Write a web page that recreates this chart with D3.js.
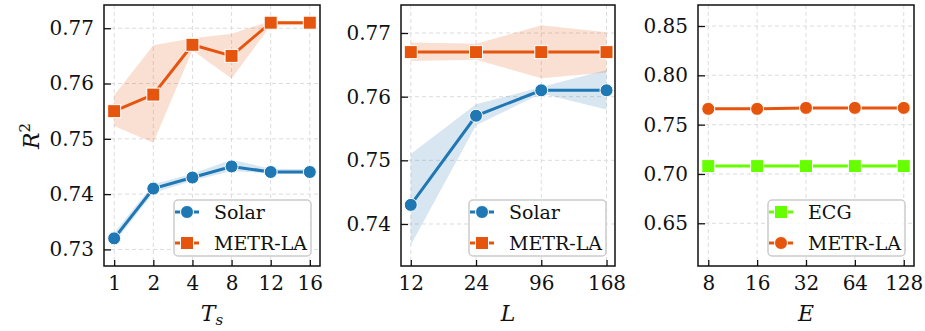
<!DOCTYPE html>
<html>
<head>
<meta charset="utf-8">
<script src="https://cdn.jsdelivr.net/npm/d3@7"></script>
<style>
body{margin:0;background:#fff}
svg{display:block}
text{font-family:"DejaVu Serif","DejaVu Sans",sans-serif;fill:#111}
</style>
</head>
<body>
<div id="chart-area"></div>
<script>
// data
const tsLabels = ['1','2','4','8','12','16']
const tsSolar = [0.732,0.741,0.743,0.745,0.744,0.744]
const tsSolarLo = [0.7312,0.7402,0.7424,0.7442,0.7437,0.7437]
const tsSolarHi = [0.7330,0.7418,0.7437,0.7462,0.7446,0.7445]
const tsMetr = [0.755,0.758,0.767,0.765,0.771,0.771]
const tsMetrLo = [0.7523,0.7493,0.7660,0.7609,0.7705,0.7706]
const tsMetrHi = [0.7579,0.7669,0.7682,0.7690,0.7713,0.7713]

const lLabels = ['12','24','96','168']
const lSolar = [0.743,0.757,0.761,0.761]
const lSolarLo = [0.7367,0.7555,0.7605,0.7580]
const lSolarHi = [0.7510,0.7588,0.7615,0.7642]
const lMetr = [0.767,0.767,0.767,0.767]
const lMetrLo = [0.7656,0.7658,0.7629,0.7638]
const lMetrHi = [0.7685,0.7683,0.7712,0.7701]

const eLabels = ['8','16','32','64','128']
const eEcg = [0.708,0.708,0.708,0.708,0.708]
const eMetr = [0.766,0.766,0.767,0.767,0.767]

const BLUE = '#1f77b4'
const ORANGE = '#e6550d'
const GREEN = '#66ff00'
const FONT = '"DejaVu Serif","DejaVu Sans",sans-serif'

const svg = d3.select('#chart-area')
.append('svg')
.attr('width',925)
.attr('height',331)

const panels = [
	{left:104,right:320,xdom:[-0.26,5.26],ydom:[0.727,0.7742],yticks:[0.73,0.74,0.75,0.76,0.77],fmt:'.2f',
	 labels:tsLabels,xlabel:'T',sub:'s',ylabel:true,
	 series:[
		{name:'Solar',vals:tsSolar,lo:tsSolarLo,hi:tsSolarHi,color:BLUE,shape:'circle'},
		{name:'METR-LA',vals:tsMetr,lo:tsMetrLo,hi:tsMetrHi,color:ORANGE,shape:'square'}
	 ]},
	{left:401,right:615,xdom:[-0.15,3.13],ydom:[0.7334,0.7744],yticks:[0.74,0.75,0.76,0.77],fmt:'.2f',
	 labels:lLabels,xlabel:'L',
	 series:[
		{name:'Solar',vals:lSolar,lo:lSolarLo,hi:lSolarHi,color:BLUE,shape:'circle'},
		{name:'METR-LA',vals:lMetr,lo:lMetrLo,hi:lMetrHi,color:ORANGE,shape:'square'}
	 ]},
	{left:698,right:914,xdom:[-0.21,4.21],ydom:[0.6067,0.8713],yticks:[0.65,0.70,0.75,0.80,0.85],fmt:'.2f',
	 labels:eLabels,xlabel:'E',
	 series:[
		{name:'ECG',vals:eEcg,color:GREEN,shape:'square'},
		{name:'METR-LA',vals:eMetr,color:ORANGE,shape:'circle'}
	 ]}
]

const TOP = 5, BOTTOM = 266

function marker(sel,shape,color,x,y){
	if(shape==='circle'){
		sel.append('circle').attr('cx',x).attr('cy',y).attr('r',6.5)
		.attr('fill',color).attr('stroke','#fff').attr('stroke-width',1)
	} else {
		sel.append('rect').attr('x',x-6.5).attr('y',y-6.5).attr('width',13).attr('height',13)
		.attr('fill',color).attr('stroke','#fff').attr('stroke-width',1)
	}
}

panels.forEach(p=>{
	const x = d3.scaleLinear().domain(p.xdom).range([p.left,p.right])
	const y = d3.scaleLinear().domain(p.ydom).range([BOTTOM,TOP])
	const g = svg.append('g')

	// grid
	g.selectAll('.vg').data(p.labels).enter().append('line')
	.attr('x1',(d,i)=>x(i)).attr('x2',(d,i)=>x(i))
	.attr('y1',TOP).attr('y2',BOTTOM)
	.attr('stroke','#dcdcdc').attr('stroke-width',1).attr('stroke-dasharray','4,3')
	g.selectAll('.hg').data(p.yticks).enter().append('line')
	.attr('x1',p.left).attr('x2',p.right)
	.attr('y1',d=>y(d)).attr('y2',d=>y(d))
	.attr('stroke','#dcdcdc').attr('stroke-width',1).attr('stroke-dasharray','4,3')

	// bands
	p.series.forEach(s=>{
		if(!s.lo) return
		const area = d3.area().x((d,i)=>x(i)).y0((d,i)=>y(s.lo[i])).y1((d,i)=>y(s.hi[i]))
		g.append('path').datum(s.vals).attr('d',area)
		.attr('fill',s.color).attr('opacity',0.18)
	})
	// lines + markers
	p.series.forEach(s=>{
		const line = d3.line().x((d,i)=>x(i)).y(d=>y(d))
		g.append('path').datum(s.vals).attr('d',line)
		.attr('fill','none').attr('stroke',s.color).attr('stroke-width',3)
		s.vals.forEach((v,i)=>marker(g,s.shape,s.color,x(i),y(v)))
	})

	// axes
	const xAxis = d3.axisBottom(x).tickValues(d3.range(p.labels.length))
	.tickFormat(i=>p.labels[i]).tickSizeInner(-6).tickSizeOuter(0).tickPadding(10)
	const xg = g.append('g').attr('transform',`translate(0,${BOTTOM})`).call(xAxis)
	const yAxis = d3.axisLeft(y).tickValues(p.yticks).tickFormat(d3.format(p.fmt))
	.tickSizeInner(-7).tickSizeOuter(0).tickPadding(10)
	const yg = g.append('g').attr('transform',`translate(${p.left},0)`).call(yAxis)
	;[xg,yg].forEach(a=>{
		a.attr('font-family',FONT)
		a.select('.domain').remove()
		a.selectAll('line').attr('stroke','#111').attr('stroke-width',1.3)
		a.selectAll('text').attr('font-size',20).attr('font-family',FONT).attr('fill','#111')
	})
	g.append('rect').attr('x',p.left).attr('y',TOP).attr('width',p.right-p.left).attr('height',BOTTOM-TOP)
	.attr('fill','none').attr('stroke','#111').attr('stroke-width',1.5)

	// x label
	const xl = g.append('text').attr('x',(p.left+p.right)/2).attr('y',321)
	.attr('text-anchor','middle').attr('font-size',22).attr('font-style','italic')
	xl.append('tspan').text(p.xlabel)
	if(p.sub) xl.append('tspan').attr('font-size',15).attr('dy',4).text(p.sub)

	if(p.ylabel){
		const yl = g.append('text').attr('transform','translate(39,136) rotate(-90)')
		.attr('text-anchor','middle').attr('font-size',22).attr('font-style','italic')
		yl.append('tspan').text('R')
		yl.append('tspan').attr('font-size',15).attr('font-style','normal').attr('dy',-9).text('2')
	}

	// legend
	const lx = p.right - 146, ly = 200
	const leg = g.append('g')
	leg.append('rect').attr('x',lx).attr('y',ly).attr('width',137).attr('height',56).attr('rx',4)
	.attr('fill','#fff').attr('fill-opacity',0.8).attr('stroke','#cccccc').attr('stroke-width',1.5)
	p.series.forEach((s,i)=>{
		const cy = ly + 12 + i*31
		leg.append('line').attr('x1',lx+1).attr('x2',lx+7).attr('y1',cy).attr('y2',cy)
		.attr('stroke',s.color).attr('stroke-width',3)
		leg.append('line').attr('x1',lx+19).attr('x2',lx+25).attr('y1',cy).attr('y2',cy)
		.attr('stroke',s.color).attr('stroke-width',3)
		marker(leg,s.shape,s.color,lx+13,cy)
		leg.append('text').attr('x',lx+40).attr('y',cy+7).attr('font-size',19).text(s.name)
	})
})
</script>
</body>
</html>
